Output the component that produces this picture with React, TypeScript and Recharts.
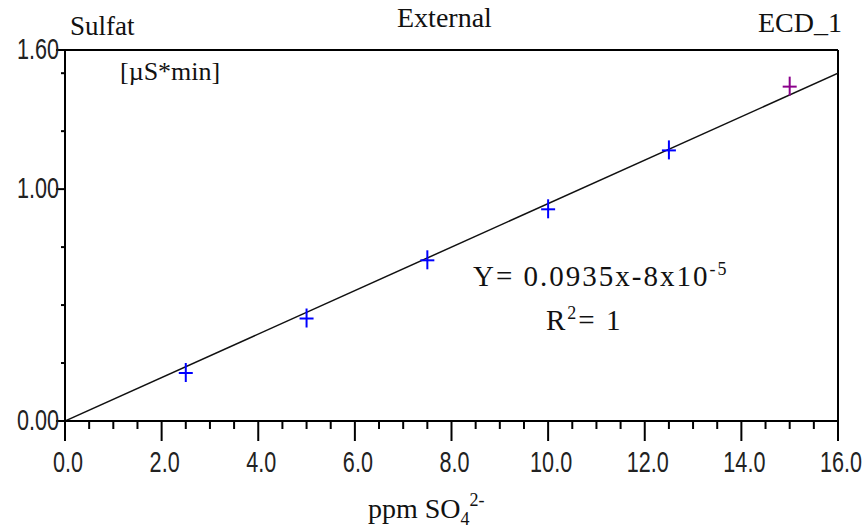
import { ComposedChart, XAxis, YAxis, Scatter, Line, ReferenceLine, Cell } from "recharts";

// calibration standards, ppm (x) vs peak area in µS*min (y)
const concentrations = [2.5, 5.0, 7.5, 10.0, 12.5, 15.0];
const areas = [0.207, 0.442, 0.693, 0.913, 1.167, 1.442];
const standards = concentrations.map((x, i) => ({ x, y: areas[i] }));

// regression line end points
const fitX = [0, 16];
const fitY = [0, 1.5];
const fitLine = fitX.map((x, i) => ({ x, y: fitY[i] }));

const xTicks = Array.from({ length: 33 }, (_, i) => i * 0.5);
const xLabelled = [0, 2, 4, 6, 8, 10, 12, 14, 16];
const yTicks = [0, 0.25, 0.5, 0.75, 1, 1.25, 1.5, 1.6];
const yLabelled = [0, 1, 1.6];

const tickFont = "'Liberation Sans', Arial, sans-serif";
const serif = "'Liberation Serif', 'Times New Roman', serif";

function XTick(props: any) {
  const { x, y, payload } = props;
  const v = payload.value;
  const major = xLabelled.includes(v);
  return (
    <g>
      <line x1={x} x2={x} y1={y} y2={y + (major ? 20 : 8)} stroke="#000" strokeWidth={2} />
      {major && (
        <text
          transform={`translate(${x + 3},${y + 51}) scale(0.72,1)`}
          textAnchor="middle"
          fontFamily={tickFont}
          fontSize={30}
          fill="#222"
        >
          {v.toFixed(1)}
        </text>
      )}
    </g>
  );
}

function YTick(props: any) {
  const { x, y, payload } = props;
  const v = payload.value;
  const major = yLabelled.includes(v);
  return (
    <g>
      <line x1={x - (major ? 9 : 4)} x2={x} y1={y} y2={y} stroke="#000" strokeWidth={2} />
      {major && (
        <text
          transform={`translate(${x - 6},${y + 9}) scale(0.72,1)`}
          textAnchor="end"
          fontFamily={tickFont}
          fontSize={30}
          fill="#222"
        >
          {v.toFixed(2)}
        </text>
      )}
    </g>
  );
}

function Plus(props: any) {
  const { cx, cy, fill } = props;
  return (
    <g stroke={fill} strokeWidth={2}>
      <line x1={cx} x2={cx} y1={cy - 10} y2={cy + 9} />
      <line x1={cx - 7} x2={cx + 7} y1={cy} y2={cy} />
    </g>
  );
}

export default function App() {
  return (
    <div style={{ position: "absolute", left: 0, top: 0, width: 867, height: 530, background: "#fff" }}>
      <ComposedChart width={867} height={530} margin={{ top: 50, right: 29, left: 0, bottom: 0 }}>
        <XAxis
          dataKey="x"
          type="number"
          domain={[0, 16]}
          ticks={xTicks}
          interval={0}
          height={109}
          tickSize={0}
          tickMargin={0}
          tickLine={false}
          tick={<XTick />}
          axisLine={{ stroke: "#000", strokeWidth: 2 }}
          allowDataOverflow
        />
        <YAxis
          type="number"
          domain={[0, 1.6]}
          ticks={yTicks}
          interval={0}
          width={65}
          tickSize={0}
          tickMargin={0}
          tickLine={false}
          tick={<YTick />}
          axisLine={{ stroke: "#000", strokeWidth: 2 }}
          allowDataOverflow
        />
        <ReferenceLine y={1.6} stroke="#000" strokeWidth={2} />
        <ReferenceLine x={16} stroke="#000" strokeWidth={2} />
        <Line
          data={fitLine}
          dataKey="y"
          type="linear"
          dot={false}
          stroke="#111"
          strokeWidth={1.5}
          isAnimationActive={false}
        />
        <Scatter data={standards} dataKey="y" shape={<Plus />} isAnimationActive={false}>
          {standards.map((_, i) => (
            <Cell key={`pt-${i}`} fill={i === standards.length - 1 ? "#8b008b" : "#0000ff"} />
          ))}
        </Scatter>
      </ComposedChart>
      <svg
        width={867}
        height={530}
        style={{ position: "absolute", left: 0, top: 0, pointerEvents: "none" }}
        fontFamily={serif}
        fill="#111"
      >
        <text x={70} y={35} fontSize={27}>Sulfat</text>
        <text x={397} y={27} fontSize={28}>External</text>
        <text x={758} y={32} fontSize={28}>ECD_1</text>
        <text x={120} y={80} fontSize={26}>[µS*min]</text>
        <text x={473} y={286} fontSize={29} letterSpacing={2}>
          Y= 0.0935x-8x10<tspan dy={-11} fontSize={18}>-5</tspan>
        </text>
        <text x={546} y={330} fontSize={29} letterSpacing={2}>
          R<tspan dy={-11} fontSize={18}>2</tspan>
          <tspan dy={11}>= 1</tspan>
        </text>
        <text x={368} y={518} fontSize={28}>
          ppm SO<tspan dy={7} fontSize={18}>4</tspan>
          <tspan dy={-19} fontSize={18}>2-</tspan>
        </text>
      </svg>
    </div>
  );
}
